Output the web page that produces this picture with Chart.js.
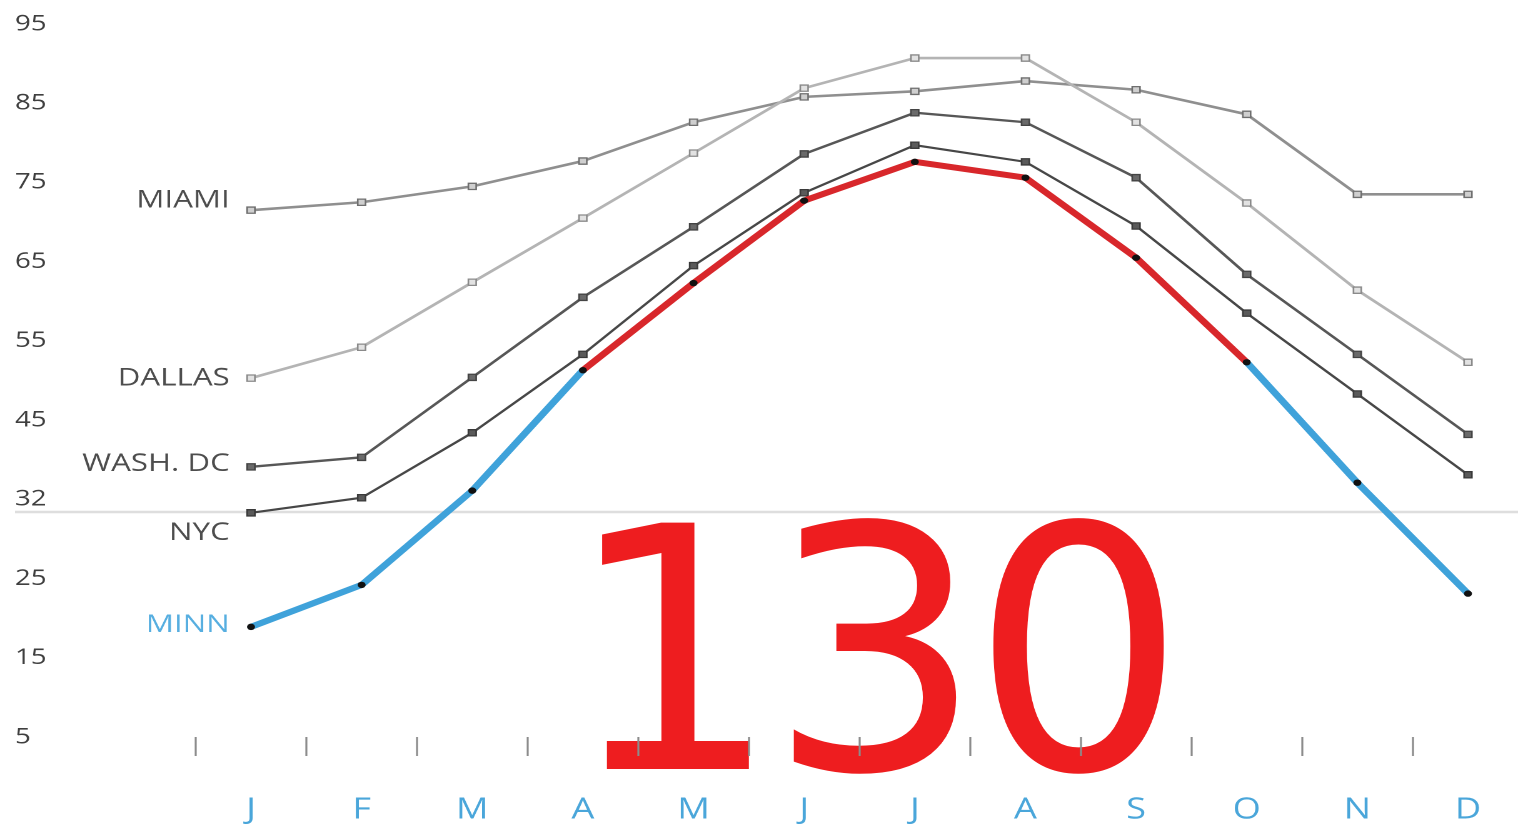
<!DOCTYPE html>
<html>
<head>
<meta charset="utf-8">
<title>Average monthly temperature</title>
<script src="https://cdn.jsdelivr.net/npm/chart.js@4.4.1/dist/chart.umd.min.js"></script>
<style>
  html, body { margin: 0; padding: 0; background: #fff; overflow: hidden; }
  /* the chart is laid out narrow and widened horizontally */
  #wrap {
    position: absolute; left: 0; top: 0;
    width: 1214px; height: 836px;
    transform-origin: 0 0;
    transform: scaleX(1.25041);
  }
</style>
</head>
<body>
<div id="wrap"><canvas id="chart"></canvas></div>
<script>
// Horizontal widening applied to the canvas (see #wrap)
const STRETCH = 1518 / 1214;

// ---- data -------------------------------------------------------------
const MONTHS = ['J', 'F', 'M', 'A', 'M', 'J', 'J', 'A', 'S', 'O', 'N', 'D'];
const CITIES = ['MIAMI', 'DALLAS', 'WASH. DC', 'NYC', 'MINN'];

const MIAMI  = [71.5, 72.5, 74.5, 77.7, 82.6, 85.8, 86.5, 87.8, 86.7, 83.6, 73.5, 73.5];
const DALLAS = [50.3, 54.2, 62.4, 70.5, 78.7, 86.9, 90.7, 90.7, 82.6, 72.4, 61.4, 52.3];
const WASHDC = [39.1, 40.3, 50.4, 60.5, 69.4, 78.6, 83.8, 82.6, 75.6, 63.4, 53.3, 43.2];
const NYC    = [33.3, 35.2, 43.4, 53.3, 64.5, 73.7, 79.7, 77.6, 69.5, 58.5, 48.3, 38.1];
const MINN   = [18.9, 24.2, 36.1, 51.3, 62.3, 72.7, 77.6, 75.6, 65.5, 52.3, 37.1, 23.1];

const Y_TICKS       = [5, 15, 25, 35, 45, 55, 65, 75, 85, 95];
const Y_TICK_LABELS = ['5', '15', '25', '32', '45', '55', '65', '75', '85', '95'];

const FREEZING_LINE  = 33.4;   // rule drawn just under the "32" label
const WARM_THRESHOLD = 50;     // MINN segments above this are drawn red
const BIG_NUMBER     = '130';

// ---- styles -----------------------------------------------------------
const BLUE = '#3fa2da';
const RED  = '#d8272b';

const STYLE = {
  'MIAMI':    { line: '#8f8f8f', width: 2.6, fill: '#cfcfcf', edge: '#6f6f6f', labelDy: -10, labelColor: '#4d4d4d' },
  'DALLAS':   { line: '#b4b4b4', width: 2.6, fill: '#e2e2e2', edge: '#8a8a8a', labelDy: 0,   labelColor: '#4d4d4d' },
  'WASH. DC': { line: '#575757', width: 2.4, fill: '#6a6a6a', edge: '#444444', labelDy: -3,  labelColor: '#4d4d4d' },
  'NYC':      { line: '#474747', width: 2.2, fill: '#5a5a5a', edge: '#3a3a3a', labelDy: 20,  labelColor: '#4d4d4d' },
  'MINN':     { labelDy: -2, labelColor: '#56aee0' }
};

const SERIES = { 'MIAMI': MIAMI, 'DALLAS': DALLAS, 'WASH. DC': WASHDC, 'NYC': NYC, 'MINN': MINN };

const toPoints = arr => arr.map((v, i) => ({ x: i, y: v }));

const datasets = CITIES.map((name, k) => {
  const s = STYLE[name];
  if (name === 'MINN') {
    return {
      label: name,
      data: toPoints(SERIES[name]),
      order: 0,
      borderWidth: 6,
      borderColor: BLUE,
      segment: {
        borderColor: c => (c.p0.parsed.y >= WARM_THRESHOLD && c.p1.parsed.y >= WARM_THRESHOLD) ? RED : BLUE
      },
      borderCapStyle: 'round',
      borderJoinStyle: 'round',
      pointStyle: 'circle',
      pointRadius: 3.2,
      pointBorderWidth: 0,
      pointBackgroundColor: '#111111',
      tension: 0
    };
  }
  return {
    label: name,
    data: toPoints(SERIES[name]),
    order: CITIES.length - k,
    borderWidth: s.width,
    borderColor: s.line,
    pointStyle: 'rect',
    pointRadius: 4.4,
    pointBorderWidth: 1.3,
    pointBackgroundColor: s.fill,
    pointBorderColor: s.edge,
    tension: 0
  };
});

// ---- extra drawing: freezing rule, city names, big number -------------
const overlay = {
  id: 'overlay',
  beforeDraw(chart) {
    const ctx = chart.ctx;
    ctx.save();
    ctx.scale(1 / STRETCH, 1);
    ctx.fillStyle = '#ee1d1f';
    ctx.font = '338px "DejaVu Sans"';
    ctx.letterSpacing = '-12px';
    ctx.textAlign = 'left';
    ctx.textBaseline = 'alphabetic';
    ctx.fillText(BIG_NUMBER, 565, 769);
    ctx.restore();
  },
  beforeDatasetsDraw(chart) {
    const ctx = chart.ctx;
    const y = chart.scales.y.getPixelForValue(FREEZING_LINE);
    ctx.save();
    ctx.strokeStyle = '#dedede';
    ctx.lineWidth = 2.4;
    ctx.beginPath();
    ctx.moveTo(chart.scales.y.left, y);
    ctx.lineTo(chart.width, y);
    ctx.stroke();
    ctx.restore();
  },
  afterDatasetsDraw(chart) {
    const ctx = chart.ctx;
    ctx.save();
    ctx.font = '25px "Open Sans"';
    ctx.textAlign = 'right';
    ctx.textBaseline = 'middle';
    chart.data.datasets.forEach((ds, i) => {
      const first = chart.getDatasetMeta(i).data[0];
      const s = STYLE[ds.label];
      ctx.fillStyle = s.labelColor;
      ctx.fillText(ds.label, first.x - 17, first.y + s.labelDy);
    });
    ctx.restore();
  }
};

// ---- chart ------------------------------------------------------------
const X_MIN = -1.7262;
const X_MAX = 11.452;
const Y_MIN = 5;
const Y_MAX = 98.03;

new Chart(document.getElementById('chart'), {
  type: 'line',
  data: { datasets },
  plugins: [overlay],
  options: {
    responsive: true,
    maintainAspectRatio: false,
    animation: false,
    devicePixelRatio: 2,
    layout: { autoPadding: false, padding: { left: 12, right: 0, top: 0, bottom: 0 } },
    plugins: { legend: { display: false }, tooltip: { enabled: false } },
    scales: {
      x: {
        type: 'linear',
        position: 'bottom',
        min: X_MIN,
        max: X_MAX,
        afterBuildTicks: scale => {
          const ticks = [];
          MONTHS.forEach((m, i) => { ticks.push({ value: i - 0.5 }); ticks.push({ value: i }); });
          scale.ticks = ticks;
        },
        afterFit: scale => { scale.height = 99; scale.paddingLeft = 0; scale.paddingRight = 0; },
        ticks: {
          autoSkip: false,
          maxRotation: 0,
          minRotation: 0,
          padding: 37,
          color: '#4aa6da',
          font: { family: '"Open Sans"', size: 29 },
          callback: v => Number.isInteger(v) ? MONTHS[v] : ''
        },
        grid: {
          display: true,
          drawOnChartArea: false,
          drawTicks: true,
          tickLength: 19,
          tickWidth: 1.6,
          tickColor: c => (c.tick && !Number.isInteger(c.tick.value)) ? '#8c8c8c' : 'rgba(0,0,0,0)'
        },
        border: { display: false }
      },
      y: {
        type: 'linear',
        position: 'left',
        min: Y_MIN,
        max: Y_MAX,
        afterBuildTicks: scale => { scale.ticks = Y_TICKS.map(v => ({ value: v })); },
        afterFit: scale => { scale.width = 36; scale.paddingTop = 0; scale.paddingBottom = 0; },
        ticks: {
          crossAlign: 'far',
          padding: 0,
          color: '#3f3f3f',
          font: { family: '"Open Sans"', size: 22 },
          callback: v => Y_TICK_LABELS[Y_TICKS.indexOf(v)]
        },
        grid: { display: false },
        border: { display: false }
      }
    }
  }
});
</script>
</body>
</html>
